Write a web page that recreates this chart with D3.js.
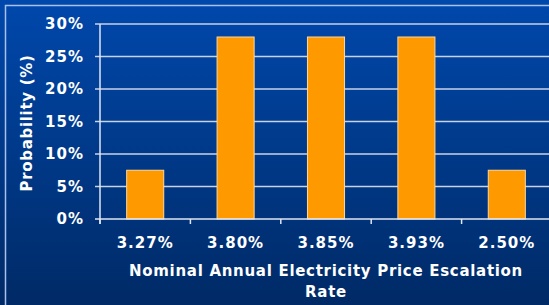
<!DOCTYPE html>
<html lang="en">
<head>
    <meta charset="UTF-8">
    <title>Electricity Price Escalation Probability</title>
    <script src="https://cdnjs.cloudflare.com/ajax/libs/d3/7.8.5/d3.min.js"></script>
    <style>
        html, body { margin: 0; padding: 0; overflow: hidden; }
        svg { display: block; }
        .lbl {
            font-family: "DejaVu Sans", Verdana, sans-serif;
            font-weight: bold;
            font-size: 15px;
            fill: #ffffff;
            letter-spacing: 1px;
        }
        .title { letter-spacing: 0.7px; }
        .grid { stroke: #c8d2e6; stroke-width: 1.5; }
        .axis-line { stroke: #e0e6f2; stroke-width: 1.5; }
        .bar { fill: #ff9900; stroke: #ffd79a; stroke-width: 1; }
    </style>
</head>
<body>
    <div id="chart"></div>

    <script>
        // chart data
        const categories = ["3.27%", "3.80%", "3.85%", "3.93%", "2.50%"];
        const probabilities = [0.075, 0.28, 0.28, 0.28, 0.075];
        const yTicks = [0, 0.05, 0.10, 0.15, 0.20, 0.25, 0.30];
        const yTickLabels = ["0%", "5%", "10%", "15%", "20%", "25%", "30%"];

        const width = 549, height = 305;

        const svg = d3.select("#chart")
            .append("svg")
            .attr("width", width)
            .attr("height", height);

        // background gradient
        const defs = svg.append("defs");
        const grad = defs.append("linearGradient")
            .attr("id", "bg")
            .attr("x1", 0).attr("y1", 0).attr("x2", 0).attr("y2", 1);
        grad.append("stop").attr("offset", "0%").attr("stop-color", "#0048ac");
        grad.append("stop").attr("offset", "100%").attr("stop-color", "#002a66");

        svg.append("rect")
            .attr("width", width)
            .attr("height", height)
            .attr("fill", "url(#bg)");

        // slide frame
        svg.append("rect")
            .attr("x", 5.5).attr("y", 5.5)
            .attr("width", width + 20).attr("height", height + 20)
            .attr("fill", "none")
            .attr("stroke", "#a9bfee")
            .attr("stroke-width", 1.5);

        // scales
        const x = d3.scaleBand()
            .domain(categories)
            .range([100, 552])
            .paddingInner(0.59)
            .paddingOuter(0.295);

        const y = d3.scaleLinear()
            .domain([0, 0.30])
            .range([219, 24]);

        // gridlines + y labels
        svg.selectAll(".grid")
            .data(yTicks.slice(1))
            .enter()
            .append("line")
            .attr("class", "grid")
            .attr("x1", 95)
            .attr("x2", width)
            .attr("y1", d => y(d))
            .attr("y2", d => y(d));

        svg.selectAll(".ylbl")
            .data(yTicks)
            .enter()
            .append("text")
            .attr("class", "lbl")
            .attr("x", 84)
            .attr("y", d => y(d))
            .attr("dy", "0.36em")
            .attr("text-anchor", "end")
            .text((d, i) => yTickLabels[i]);

        // bars
        svg.selectAll(".bar")
            .data(probabilities)
            .enter()
            .append("rect")
            .attr("class", "bar")
            .attr("x", (d, i) => x(categories[i]))
            .attr("width", x.bandwidth())
            .attr("y", d => y(d))
            .attr("height", d => y(0) - y(d));

        // axes
        svg.append("line")
            .attr("class", "axis-line")
            .attr("x1", 100).attr("x2", 100)
            .attr("y1", y(0.30)).attr("y2", y(0) + 5);
        svg.append("line")
            .attr("class", "axis-line")
            .attr("x1", 95).attr("x2", width)
            .attr("y1", y(0)).attr("y2", y(0));

        // category boundary ticks
        const step = x.step();
        svg.selectAll(".xtick")
            .data(d3.range(categories.length + 1))
            .enter()
            .append("line")
            .attr("class", "axis-line")
            .attr("x1", d => 100 + d * step)
            .attr("x2", d => 100 + d * step)
            .attr("y1", y(0))
            .attr("y2", y(0) + 5);

        svg.selectAll(".xlbl")
            .data(categories)
            .enter()
            .append("text")
            .attr("class", "lbl")
            .attr("x", d => x(d) + x.bandwidth() / 2)
            .attr("y", 248)
            .attr("text-anchor", "middle")
            .text(d => d);

        // axis titles
        svg.append("text")
            .attr("class", "lbl title")
            .attr("x", 326)
            .attr("y", 276)
            .attr("text-anchor", "middle")
            .text("Nominal Annual Electricity Price Escalation");
        svg.append("text")
            .attr("class", "lbl title")
            .attr("x", 326)
            .attr("y", 297)
            .attr("text-anchor", "middle")
            .text("Rate");

        svg.append("text")
            .attr("class", "lbl title")
            .attr("transform", "translate(32,123) rotate(-90)")
            .attr("text-anchor", "middle")
            .text("Probability (%)");
    </script>
</body>
</html>
